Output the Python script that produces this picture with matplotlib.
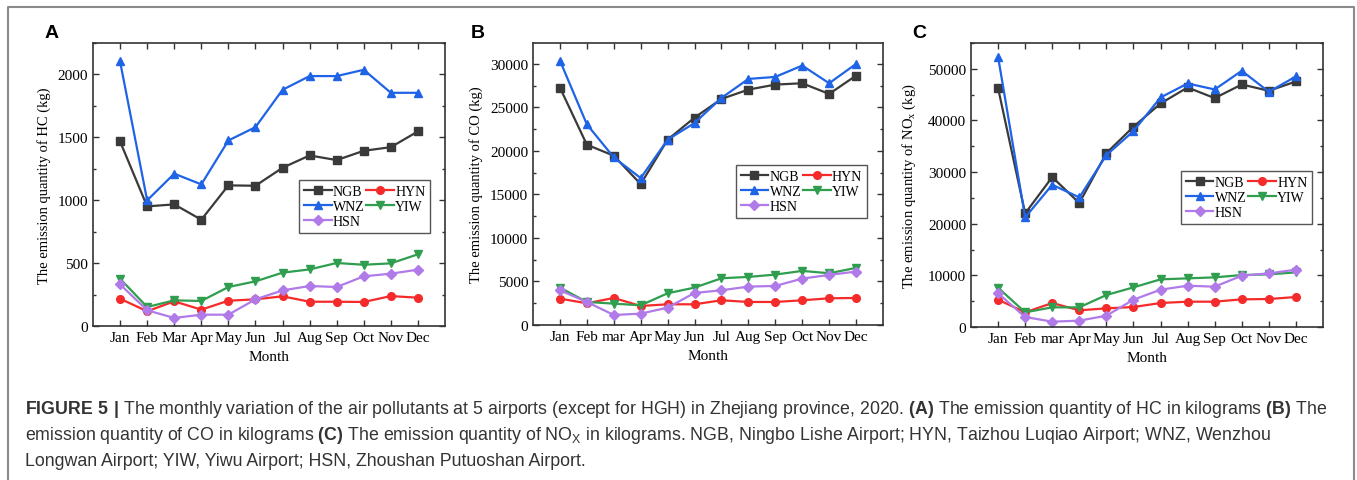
import matplotlib
matplotlib.use("Agg")
import matplotlib.pyplot as plt
from matplotlib.lines import Line2D
from matplotlib.ticker import MultipleLocator

plt.rcParams['mathtext.fontset'] = 'custom'
plt.rcParams['mathtext.rm'] = 'Liberation Sans'
plt.rcParams['mathtext.bf'] = 'Liberation Sans:bold'
plt.rcParams['mathtext.sf'] = 'Liberation Serif'

# months (panel B and C use lower-case "mar" as in the source)
months_a = ['Jan', 'Feb', 'Mar', 'Apr', 'May', 'Jun', 'Jul', 'Aug', 'Sep', 'Oct', 'Nov', 'Dec']
months_bc = ['Jan', 'Feb', 'mar', 'Apr', 'May', 'Jun', 'Jul', 'Aug', 'Sep', 'Oct', 'Nov', 'Dec']
x = list(range(1, 13))

# HC (kg)
hc_ngb = [1467, 951, 967, 845, 1118, 1115, 1258, 1356, 1319, 1393, 1422, 1547]
hc_hyn = [217, 117, 196, 130, 201, 212, 236, 193, 193, 191, 238, 225]
hc_wnz = [2103, 999, 1211, 1126, 1475, 1581, 1878, 1987, 1987, 2037, 1854, 1854]
hc_yiw = [376, 151, 204, 199, 310, 355, 424, 450, 501, 487, 498, 570]
hc_hsn = [331, 125, 64, 90, 90, 212, 283, 318, 310, 395, 416, 448]

# CO (kg)
co_ngb = [27276, 20716, 19450, 16189, 21292, 23824, 25972, 27046, 27621, 27775, 26547, 28657]
co_hyn = [3031, 2494, 3107, 2187, 2379, 2379, 2839, 2647, 2647, 2839, 3069, 3107]
co_wnz = [30384, 23056, 19258, 16880, 21292, 23210, 26087, 28274, 28504, 29808, 27775, 30000]
co_yiw = [4297, 2647, 2455, 2263, 3645, 4297, 5371, 5524, 5793, 6215, 5946, 6560]
co_hsn = [3990, 2647, 1151, 1304, 1995, 3683, 3990, 4412, 4488, 5332, 5754, 6138]

# NOx (kg)
nox_ngb = [46258, 22000, 29032, 24000, 33677, 38774, 43290, 46387, 44323, 46968, 45742, 47548]
nox_hyn = [5290, 2839, 4645, 3226, 3613, 3871, 4645, 4903, 4903, 5355, 5419, 5806]
nox_wnz = [52323, 21226, 27548, 25097, 33290, 37935, 44452, 47161, 46000, 49613, 45548, 48516]
nox_yiw = [7613, 2839, 3806, 3806, 6194, 7677, 9226, 9419, 9613, 10065, 10194, 10581]
nox_hsn = [6516, 1935, 1032, 1226, 2194, 5290, 7226, 8000, 7806, 9935, 10387, 11097]

names = ['NGB', 'HYN', 'WNZ', 'YIW', 'HSN']
colors = ['#3a3a3a', '#f52a2a', '#1f63e6', '#2f9e4f', '#b07ae8']
markers = ['s', 'o', '^', 'v', 'D']
msizes = [5.5, 5.5, 6, 6, 5]

W, H = 1357, 481
fig = plt.figure(figsize=(W / 100, H / 100), dpi=100)

panels = [
    # data, rect(px l, r, top, bottom), ylim, major, minor, ylabel, labelx, legend anchor, months, letter, letter x
    ([hc_ngb, hc_hyn, hc_wnz, hc_yiw, hc_hsn], (93, 445, 44, 327), 2250, 500, 250,
     'The emission quantity of HC (kg)', -0.119, (0.585, 0.516), months_a, 'A', 45),
    ([co_ngb, co_hyn, co_wnz, co_yiw, co_hsn], (533, 883, 44, 326), 32400, 5000, 2500,
     'The emission quantity of CO (kg)', -0.143, (0.579, 0.568), months_bc, 'B', 471),
    ([nox_ngb, nox_hyn, nox_wnz, nox_yiw, nox_hsn], (971, 1323, 44, 328), 55000, 10000, 5000,
     r'The emission quantity of NO$_\mathsf{x}$ (kg)', -0.151, (0.596, 0.549), months_bc, 'C', 912),
]

for data, (l, r, t, b), ymax, major, minor, ylab, labx, anchor, mlabels, letter, lx in panels:
    ax = fig.add_axes([l / W, 1 - b / H, (r - l) / W, (b - t) / H])
    lines = []
    for vals, name, col, mk, ms in zip(data, names, colors, markers, msizes):
        ln, = ax.plot(x, vals, color=col, marker=mk, markersize=ms, lw=1.6, label=name)
        lines.append(ln)
    ax.set_xlim(0, 13)
    ax.set_ylim(0, ymax)
    ax.set_xticks(x)
    ax.set_xticklabels(mlabels)
    ax.yaxis.set_major_locator(MultipleLocator(major))
    ax.yaxis.set_minor_locator(MultipleLocator(minor))
    ax.tick_params(which='both', direction='in', top=True, right=True, colors='#333333',
                   labelcolor='black')
    ax.tick_params(which='major', length=4, width=1)
    ax.tick_params(which='minor', length=2.5, width=1)
    ax.tick_params(axis='x', which='minor', top=False, bottom=False)
    for lab in ax.get_xticklabels() + ax.get_yticklabels():
        lab.set_fontfamily('Liberation Serif')
        lab.set_fontsize(11)
    for sp in ax.spines.values():
        sp.set_color('#333333')
        sp.set_linewidth(1.2)
    ax.set_ylabel(ylab, fontfamily='Liberation Serif', fontsize=10.5)
    ax.yaxis.set_label_coords(labx, 0.5)
    ax.set_xlabel('Month', fontfamily='Liberation Serif', fontsize=11)
    ax.xaxis.set_label_coords(0.5, -0.085)
    # legend filled row by row: NGB HYN / WNZ YIW / HSN
    order = [0, 2, 4, 1, 3]
    leg = ax.legend([lines[i] for i in order], [names[i] for i in order], ncol=2,
                    loc='upper left', bbox_to_anchor=anchor, borderaxespad=0,
                    prop={'family': 'Liberation Serif', 'size': 10}, handlelength=2.0,
                    handletextpad=0.1, columnspacing=0.1, labelspacing=0.15,
                    borderpad=0.35, fancybox=False, framealpha=1, edgecolor='#555555')
    leg.get_frame().set_linewidth(1.0)
    fig.text(lx / W, 1 - 34 / H, letter, fontfamily='Liberation Sans', fontweight='bold',
             fontsize=14, va='center', ha='left')

# outer frame (open at the bottom)
fx0, fx1, fy = 8 / W, 1354 / W, 1 - 8 / H
fig.add_artist(Line2D([fx0, fx0, fx1, fx1], [0, fy, fy, 0], transform=fig.transFigure,
                      color='#8a8a8a', lw=1.5))

cap1 = (r'$\mathbf{FIGURE\ 5\ |}$ The monthly variation of the air pollutants at 5 airports '
        r'(except for HGH) in Zhejiang province, 2020. $\mathbf{(A)}$ The emission quantity of HC '
        r'in kilograms $\mathbf{(B)}$ The')
cap2 = (r'emission quantity of CO in kilograms $\mathbf{(C)}$ The emission quantity of '
        r'NO$_\mathrm{X}$ in kilograms. NGB, Ningbo Lishe Airport; HYN, Taizhou Luqiao Airport; '
        r'WNZ, Wenzhou')
cap3 = 'Longwan Airport; YIW, Yiwu Airport; HSN, Zhoushan Putuoshan Airport.'
for txt, yy in zip([cap1, cap2, cap3], [410, 436, 462]):
    fig.text(25 / W, 1 - yy / H, txt, fontfamily='Liberation Sans', fontsize=12.8,
             color='#333333', va='center', ha='left')

fig.savefig('out.png', dpi=100)
